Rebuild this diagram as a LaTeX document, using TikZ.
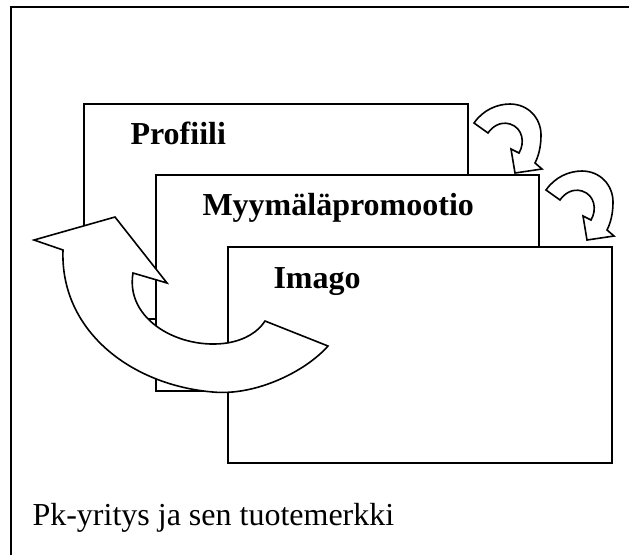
\documentclass[tikz,border=0pt]{standalone}
\usepackage{fontspec}
\setmainfont{Liberation Serif}
\tikzset{
  frameline/.style={line width=0.8pt},
  card/.style={draw, fill=white, line width=0.6pt},
  turn/.style={draw, fill=white, line width=0.6pt, line join=miter},
  cardtitle/.style={font=\bfseries\fontsize{12}{14}\selectfont, anchor=base west, inner sep=0pt},
  captiontext/.style={font=\fontsize{12}{14}\selectfont, anchor=base west, inner sep=0pt}
}
\begin{document}
\begin{tikzpicture}[x=0.375pt, y=-0.375pt]
\useasboundingbox (0,0) rectangle (629,555);
% outer frame (only top and left sides visible)
\draw[frameline] (11,555) -- (11,7) -- (629,7);
% cards
\draw[card] (84,104) rectangle (468,319);
\node[cardtitle] (profiili) at (130,144) {Profiili};
\draw[card] (156,175) rectangle (539,391);
\node[cardtitle] (myymala) at (202,215) {Myymäläpromootio};
\draw[card] (228,247) rectangle (612,463);
\node[cardtitle] (imago) at (273,288) {Imago};
% small turning arrows
\foreach \dx/\dy in {0/0, 72/67} {
  \draw[turn, shift={(\dx,\dy)}]
    (474,123) .. controls (483,110) and (497,104) .. (510,104)
    .. controls (528,104) and (541,118) .. (541,135)
    .. controls (541,148) and (538,157) .. (535,163)
    -- (542,169) -- (515,173) -- (511,149) -- (519,153)
    .. controls (525,143) and (523,128) .. (510,124)
    .. controls (500,121) and (492,127) .. (488,133) -- cycle;
}
% big turning arrow
\draw[turn]
  (34,240) -- (115,217) -- (167,283) -- (133,273)
  .. controls (125,320) and (180,350) .. (227,343)
  .. controls (245,340) and (258,332) .. (265,321)
  -- (328,346)
  .. controls (305,372) and (255,396) .. (213,392)
  .. controls (130,385) and (60,330) .. (63,250)
  -- cycle;
% caption
\node[captiontext] (caption) at (32,525) {Pk-yritys ja sen tuotemerkki};
\end{tikzpicture}
\end{document}
